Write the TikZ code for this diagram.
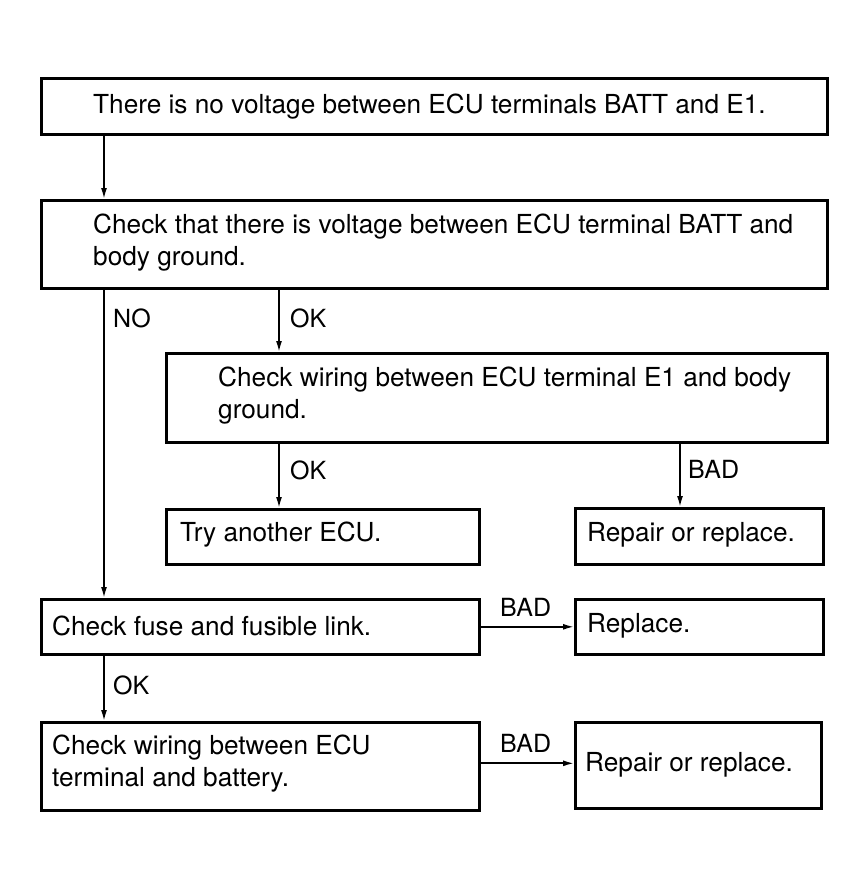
\documentclass[tikz,border=0pt]{standalone}
\usepackage{fontspec}
\setmainfont{TeX Gyre Heros}
\usetikzlibrary{arrows.meta}
\begin{document}
\begin{tikzpicture}[x=1pt,y=-1pt,
  box/.style={draw, line width=2.6pt, rectangle, inner sep=0pt, anchor=north west},
  txt/.style={anchor=west, align=left, inner sep=0pt, font=\fontsize{26.2}{32}\selectfont},
  lbl/.style={anchor=west, inner sep=0pt, font=\fontsize{25}{28}\selectfont},
  conn/.style={line width=1.7pt, -{Latex[length=11pt,width=6pt]}},
]
\useasboundingbox (0,0) rectangle (864,886);
% boxes
\node[box, minimum width=786pt, minimum height=56pt] (b1) at (40,77) {};
\node[box, minimum width=786pt, minimum height=88pt] (b2) at (40,199) {};
\node[box, minimum width=661pt, minimum height=89pt] (b3) at (165,352) {};
\node[box, minimum width=313pt, minimum height=55pt] (b4) at (165,508) {};
\node[box, minimum width=248pt, minimum height=56pt] (b5) at (574,507) {};
\node[box, minimum width=438pt, minimum height=55pt] (b6) at (40,598) {};
\node[box, minimum width=248pt, minimum height=55pt] (b7) at (574,598) {};
\node[box, minimum width=438pt, minimum height=88pt] (b8) at (40,721) {};
\node[box, minimum width=246pt, minimum height=86pt] (b9) at (574,721) {};
% texts
\node[txt] (t1) at ([xshift=53pt]b1.west) {There is no voltage between ECU terminals BATT and E1.};
\node[txt] (t2) at ([xshift=53pt,yshift=2pt]b2.west) {Check that there is voltage between ECU terminal BATT and\\body ground.};
\node[txt] (t3) at ([xshift=53pt,yshift=2pt]b3.west) {Check wiring between ECU terminal E1 and body\\ground.};
\node[txt] (t4) at ([xshift=15pt,yshift=2pt]b4.west) {Try another ECU.};
\node[txt] (t5) at ([xshift=13pt,yshift=2pt]b5.west) {Repair or replace.};
\node[txt] (t6) at ([xshift=12pt,yshift=1pt]b6.west) {Check fuse and fusible link.};
\node[txt] (t7) at ([xshift=13pt,yshift=1pt]b7.west) {Replace.};
\node[txt] (t8) at ([xshift=12pt,yshift=3pt]b8.west) {Check wiring between ECU\\terminal and battery.};
\node[txt] (t9) at ([xshift=11pt,yshift=1pt]b9.west) {Repair or replace.};
% connectors
\draw[conn] ([xshift=64pt]b1.south west) -- ([xshift=64pt]b2.north west);
\draw[conn] ([xshift=64pt]b2.south west) -- ([xshift=64pt]b6.north west);
\draw[conn] ([xshift=239pt]b2.south west) -- ([xshift=114pt]b3.north west);
\draw[conn] ([xshift=114pt]b3.south west) -- ([xshift=114pt]b4.north west);
\draw[conn] ([xshift=515pt]b3.south west) -- ([xshift=106pt]b5.north west);
\draw[conn] (b6.east) -- (b7.west);
\draw[conn] ([yshift=3pt]b8.east) -- ([yshift=3pt]b8.east -| b9.west);
\draw[conn] ([xshift=64pt]b6.south west) -- ([xshift=64pt]b8.north west);
% labels
\node[lbl] (l1) at (113,318) {NO};
\node[lbl] (l2) at (290,318) {OK};
\node[lbl] (l3) at (290,470) {OK};
\node[lbl] (l4) at (688,469) {BAD};
\node[lbl] (l5) at (500,607) {BAD};
\node[lbl] (l6) at (113,685) {OK};
\node[lbl] (l7) at (500,743) {BAD};
\end{tikzpicture}
\end{document}
